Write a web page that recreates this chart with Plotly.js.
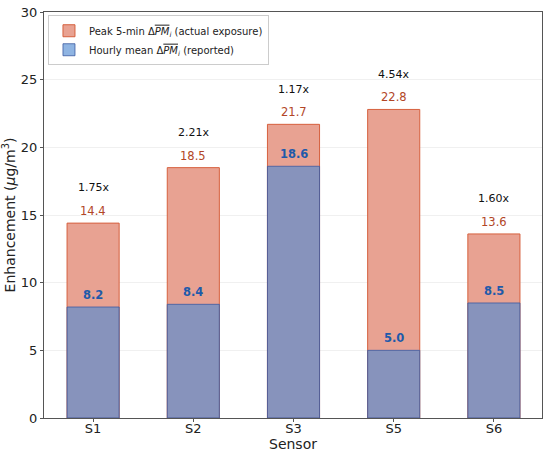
<!DOCTYPE html>
<html><head><meta charset="utf-8">
<script src="https://cdn.plot.ly/plotly-3.0.1.min.js"></script>
<style>body{margin:0;background:#fff}#chart{width:550px;height:452px}</style>
</head><body><div id="chart"></div>
<script>
var sensors = ["S1", "S2", "S3", "S5", "S6"];
var peakValues = [14.4, 18.5, 21.7, 22.8, 13.6];
var hourlyValues = [8.2, 8.4, 18.6, 5.0, 8.5];
var ratioLabels = ["1.75x", "2.21x", "1.17x", "4.54x", "1.60x"];
var yTicks = [0, 5, 10, 15, 20, 25, 30];

var FONT = "DejaVu Sans, sans-serif";

var traces = [
  {
    type: "bar", x: sensors, y: peakValues, width: 0.52,
    name: "Peak 5-min Δ<span style='text-decoration:overline'><i>PM</i></span><sub><i>i</i></sub> (actual exposure)",
    marker: {color: "rgb(232,162,146)", line: {color: "rgb(214,96,62)", width: 1}},
    hoverinfo: "skip"
  },
  {
    type: "bar", x: sensors, y: hourlyValues, width: 0.52,
    name: "Hourly mean Δ<span style='text-decoration:overline'><i>PM</i></span><sub><i>i</i></sub> (reported)",
    marker: {color: "rgba(83,140,211,0.65)", line: {color: "rgba(60,90,160,0.8)", width: 1}},
    hoverinfo: "skip"
  }
];

var annotations = [];
sensors.forEach(function (s, i) {
  annotations.push({x: s, y: peakValues[i], yshift: 3, yanchor: "bottom", showarrow: false,
    text: peakValues[i].toFixed(1), font: {family: FONT, size: 11.5, color: "rgb(178,70,38)"}});
  annotations.push({x: s, y: hourlyValues[i], yshift: 3, yanchor: "bottom", showarrow: false,
    text: "<b>" + hourlyValues[i].toFixed(1) + "</b>", font: {family: FONT, size: 11.5, color: "rgb(30,90,170)"}});
  annotations.push({x: s, y: peakValues[i] + 2.6, yanchor: "middle", showarrow: false,
    text: ratioLabels[i], font: {family: FONT, size: 11, color: "#111"}});
});

var layout = {
  width: 550, height: 452,
  margin: {l: 44, r: 8, t: 12, b: 34},
  paper_bgcolor: "#fff", plot_bgcolor: "#fff",
  barmode: "overlay",
  font: {family: FONT, color: "#222"},
  showlegend: true,
  legend: {x: 0.008, y: 0.992, xanchor: "left", yanchor: "top",
    bgcolor: "rgba(255,255,255,0.9)", bordercolor: "#ccc", borderwidth: 1,
    font: {family: FONT, size: 10, color: "#222"}, tracegroupgap: 0, itemwidth: 30},
  xaxis: {
    type: "category", range: [-0.49, 4.48],
    showline: true, mirror: true, linecolor: "#555", linewidth: 1,
    ticks: "outside", ticklen: 3, tickcolor: "#555", ticklabelstandoff: -5,
    tickfont: {family: FONT, size: 13, color: "#222"},
    title: {text: "Sensor", font: {family: FONT, size: 14, color: "#222"}, standoff: 0},
    showgrid: false, zeroline: false, automargin: false
  },
  yaxis: {
    range: [0, 30], tickvals: yTicks,
    showline: true, mirror: true, linecolor: "#555", linewidth: 1,
    ticks: "outside", ticklen: 3, tickcolor: "#555",
    tickfont: {family: FONT, size: 13, color: "#222"},
    title: {text: "Enhancement (<i>μ</i>g/m<sup>3</sup>)", font: {family: FONT, size: 14, color: "#222"}, standoff: 8},
    showgrid: true, gridcolor: "rgba(0,0,0,0.06)", gridwidth: 1, zeroline: false
  },
  annotations: annotations
};

Plotly.newPlot("chart", traces, layout, {displayModeBar: false, staticPlot: true});
</script></body></html>
